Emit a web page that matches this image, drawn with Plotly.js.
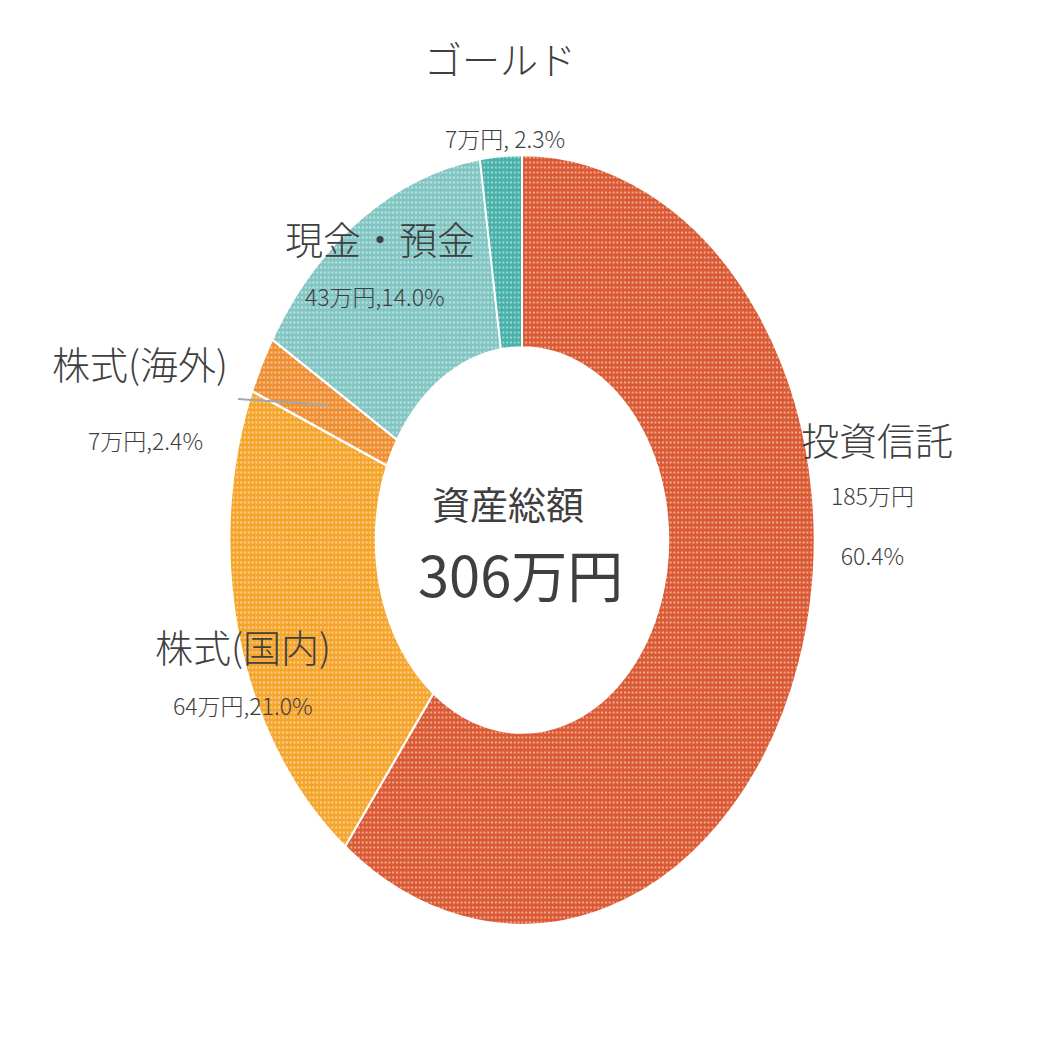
<!DOCTYPE html>
<html>
<head>
<meta charset="utf-8">
<script src="https://cdn.plot.ly/plotly-3.0.1.min.js"></script>
<style>
  html, body { margin: 0; padding: 0; background: #ffffff; }
  #wrap { position: relative; width: 1045px; height: 1045px; overflow: hidden; }
  #pie, #labels { position: absolute; left: 0; top: 0; width: 1045px; height: 1045px; }
  #pie { transform-origin: 522px 540px; transform: scaleX(0.76); }
</style>
</head>
<body>
<div id="wrap">
  <div id="pie"></div>
  <div id="labels"></div>
</div>
<script>
// ---- data ----
const categories = ["投資信託", "株式(国内)", "株式(海外)", "現金・預金", "ゴールド"];
const amounts = [185, 64, 7, 43, 7];          // 万円
const percents = [60.4, 21.0, 2.4, 14.0, 2.3]; // %
const totalAmount = 306;                        // 万円
const centerTitle = "資産総額";

// ---- styles ----
const colors = ["#db5a33", "#f5a52c", "#ef8f33", "#82c6c4", "#47b1aa"];
const textColor = "#3f3f3f";
const FONT = '"Noto Sans CJK JP", "Noto Sans", sans-serif';
const W = 1045, H = 1045;

// pie trace (drawn circular, then stretched horizontally by CSS to the reference ellipse)
const cx = 522, cy = 540, R = 385;
const pieTrace = {
  type: "pie",
  labels: categories,
  values: percents,
  sort: false,
  direction: "clockwise",
  rotation: 0,
  hole: 0.5,
  textinfo: "none",
  hoverinfo: "skip",
  showlegend: false,
  domain: { x: [(cx - R) / W, (cx + R) / W], y: [(H - cy - R) / H, (H - cy + R) / H] },
  marker: {
    colors: colors,
    line: { color: "#ffffff", width: 2.5 },
    pattern: { shape: ".", fillmode: "overlay", bgcolor: colors, fgcolor: "#ffffff", size: 5, solidity: 0.2 }
  }
};
Plotly.newPlot("pie", [pieTrace], {
  width: W, height: H, margin: { l: 0, r: 0, t: 0, b: 0 },
  paper_bgcolor: "rgba(0,0,0,0)", plot_bgcolor: "rgba(0,0,0,0)"
}, { staticPlot: true });

// ---- labels ----
const labelText = [
  `${amounts[0]}万円<br><br>${percents[0].toFixed(1)}%`,
  `${amounts[1]}万円,${percents[1].toFixed(1)}%`,
  `${amounts[2]}万円,${percents[2].toFixed(1)}%`,
  `${amounts[3]}万円,${percents[3].toFixed(1)}%`,
  `${amounts[4]}万円, ${percents[4].toFixed(1)}%`
];
// label positions in pixels: [name x, name y, value x, value y]
const labelPos = [
  [877, 438, 872, 525],
  [243, 645, 243, 705],
  [140, 362, 145, 440],
  [380, 237, 375, 296],
  [500, 57, 505, 138]
];
const px = x => x / W, py = y => 1 - y / H;
const annotations = [];
categories.forEach((c, i) => {
  const p = labelPos[i];
  annotations.push({ x: px(p[0]), y: py(p[1]), xref: "paper", yref: "paper", text: c, showarrow: false,
    xanchor: "center", yanchor: "middle", font: { family: FONT, size: 38, color: textColor, weight: 300 } });
  annotations.push({ x: px(p[2]), y: py(p[3]), xref: "paper", yref: "paper", text: labelText[i], showarrow: false,
    xanchor: "center", yanchor: "middle", font: { family: FONT, size: 23, color: textColor, weight: 300 } });
});
annotations.push({ x: px(508), y: py(502), xref: "paper", yref: "paper", text: centerTitle, showarrow: false,
  xanchor: "center", yanchor: "middle", font: { family: FONT, size: 38, color: textColor } });
annotations.push({ x: px(520), y: py(572), xref: "paper", yref: "paper", text: `${totalAmount}万円`, showarrow: false,
  xanchor: "center", yanchor: "middle", font: { family: FONT, size: 56, color: textColor } });

Plotly.newPlot("labels", [], {
  width: W, height: H, margin: { l: 0, r: 0, t: 0, b: 0 },
  paper_bgcolor: "rgba(0,0,0,0)", plot_bgcolor: "rgba(0,0,0,0)",
  xaxis: { visible: false }, yaxis: { visible: false },
  annotations: annotations,
  shapes: [{ type: "line", xref: "paper", yref: "paper", x0: px(238), y0: py(399), x1: px(328), y1: py(405),
    line: { color: "#a0a8ae", width: 2 } }]
}, { staticPlot: true });
</script>
</body>
</html>
